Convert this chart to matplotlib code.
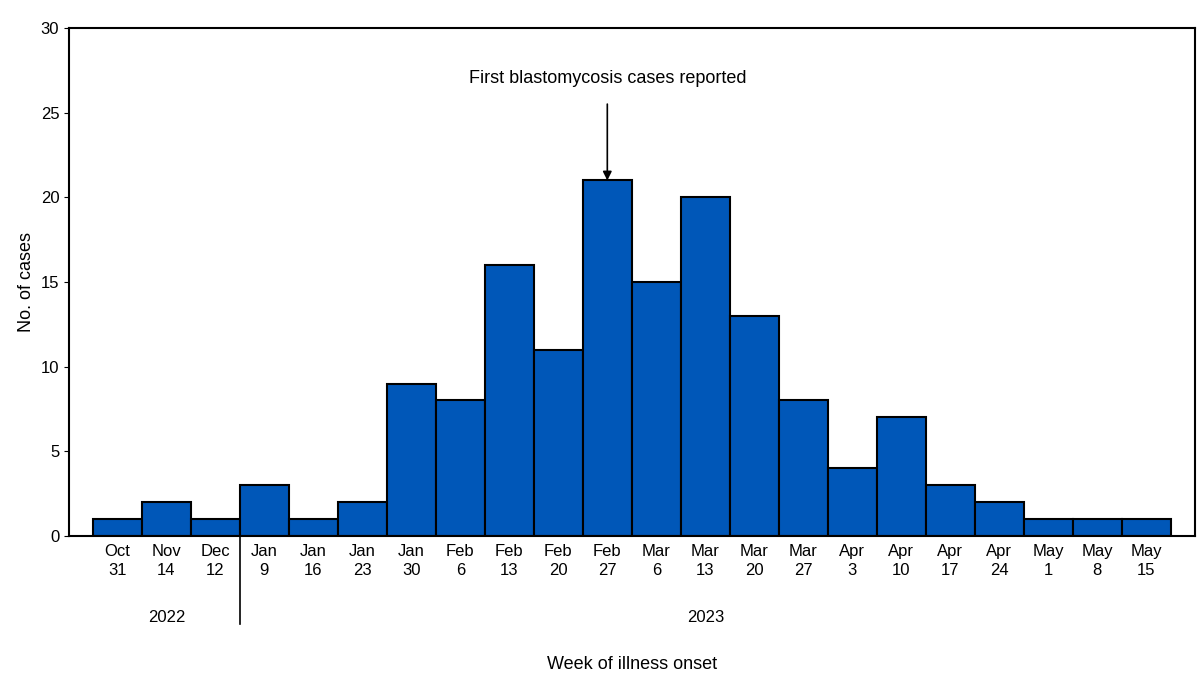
import matplotlib.pyplot as plt
import numpy as np

weeks = ["Oct\n31", "Nov\n14", "Dec\n12", "Jan\n9", "Jan\n16", "Jan\n23", "Jan\n30",
         "Feb\n6", "Feb\n13", "Feb\n20", "Feb\n27", "Mar\n6", "Mar\n13", "Mar\n20",
         "Mar\n27", "Apr\n3", "Apr\n10", "Apr\n17", "Apr\n24", "May\n1", "May\n8", "May\n15"]
cases = [1, 2, 1, 3, 1, 2, 9, 8, 16, 11, 21, 15, 20, 13, 8, 4, 7, 3, 2, 1, 1, 1]

plt.rcParams['font.family'] = 'Liberation Sans'
fig = plt.figure(figsize=(12, 6.87), dpi=100)
ax = fig.add_axes([0.0575, 0.22, 0.938, 0.739])

x = np.arange(len(cases))
ax.bar(x, cases, width=1.0, color='#0057b8', edgecolor='black', linewidth=1.5)
ax.set_xlim(-0.99, 21.99)
ax.set_ylim(0, 30)
ax.set_yticks(range(0, 31, 5))
ax.set_xticks(x)
ax.set_xticklabels(weeks, fontsize=12, linespacing=1.3)
ax.tick_params(axis='y', labelsize=12)
ax.tick_params(axis='x', length=0, pad=6)
for s in ax.spines.values():
    s.set_linewidth(1.5)
ax.set_ylabel("No. of cases", fontsize=13)

# year labels and divider
ax.text(1.0, -4.8, "2022", ha='center', va='center', fontsize=12)
ax.text(12.0, -4.8, "2023", ha='center', va='center', fontsize=12)
ax.plot([2.5, 2.5], [0, -5.2], color='black', lw=1.2, clip_on=False)
ax.text(10.5, -7.6, "Week of illness onset", ha='center', va='center', fontsize=13)

ax.annotate("First blastomycosis cases reported", xy=(10, 21), xytext=(10, 27),
            ha='center', va='center', fontsize=13,
            arrowprops=dict(arrowstyle='-|>', color='black', lw=1.2, shrinkA=10, shrinkB=0))

fig.savefig("out.png")
